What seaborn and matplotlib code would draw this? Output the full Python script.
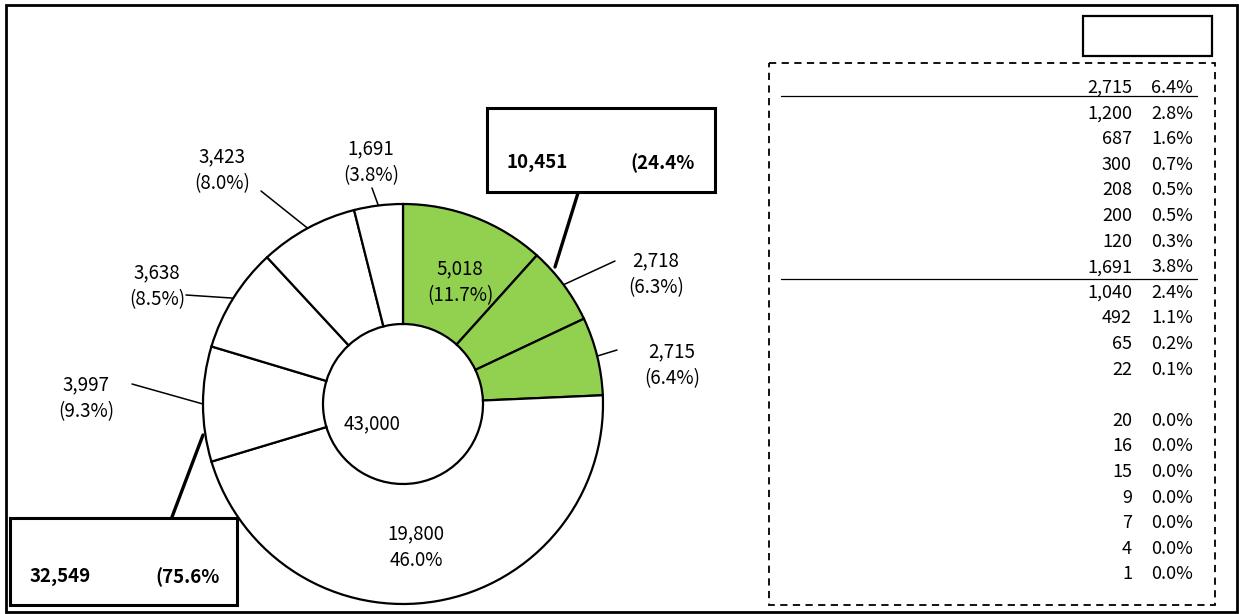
import numpy as np
import seaborn as sns
import matplotlib
matplotlib.use("Agg")
import matplotlib.pyplot as plt
from matplotlib.patches import Rectangle

# === Data ===
slice_values = [5018, 2718, 2715, 19800, 3997, 3638, 3423, 1691]
slice_pcts = ["(11.7%)", "(6.3%)", "(6.4%)", "46.0%", "(9.3%)", "(8.5%)", "(8.0%)", "(3.8%)"]
slice_colors = ["#92D050"] * 3 + ["white"] * 5
total_value = 43000
group_values = [10451, 32549]
group_pcts = ["(24.4%", "(75.6%"]

table_values = [2715, 1200, 687, 300, 208, 200, 120,
                1691, 1040, 492, 65, 22, None,
                20, 16, 15, 9, 7, 4, 1]
table_pcts = ["6.4%", "2.8%", "1.6%", "0.7%", "0.5%", "0.5%", "0.3%",
              "3.8%", "2.4%", "1.1%", "0.2%", "0.1%", None,
              "0.0%", "0.0%", "0.0%", "0.0%", "0.0%", "0.0%", "0.0%"]

# === Style ===
sns.set_theme(style="white")
plt.rcParams['font.family'] = ['Noto Sans CJK JP', 'DejaVu Sans']
plt.rcParams['text.color'] = 'black'

W, H = 1239, 614
fig = plt.figure(figsize=(W / 100, H / 100), dpi=100)
fig.patch.set_facecolor("white")

# overlay axes in pixel coordinates (frame, boxes, table)
ov = fig.add_axes([0, 0, 1, 1])
ov.set_xlim(0, W)
ov.set_ylim(H, 0)
ov.axis("off")

# pie axes: centre (403, 404) px, radius 200 px
cx, cy, R = 403, 404, 200
pax = fig.add_axes([(cx - R) / W, (H - cy - R) / H, 2 * R / W, 2 * R / H])
wedges, _ = pax.pie(slice_values, colors=slice_colors, startangle=90, counterclock=False,
                    radius=1, wedgeprops=dict(width=0.6, edgecolor="black", linewidth=1.6))
pax.set_xlim(-1, 1)
pax.set_ylim(-1, 1)
pax.axis("off")


def px(x, y):
    # pixel position -> pie data units
    return (x - cx) / R, (cy - y) / R


fs = 13.5
# label positions (px) and leader end points (px) for each slice
label_pos = [(460, 282), (656, 274), (672, 365), (416, 547),
             (86, 398), (157, 286), (222, 170), (371, 162)]
leader_end = [None, (615, 261), (617, 350), None,
              (132, 384), (186, 295), (261, 191), (372, 188)]
leader_r = [1.0, 1.0, 1.0, 1.0, 1.0, 1.0, 1.0, 1.0]

for i, w in enumerate(wedges):
    mid = np.deg2rad((w.theta1 + w.theta2) / 2)
    lx, ly = px(*label_pos[i])
    pax.text(lx, ly, f"{slice_values[i]:,}\n{slice_pcts[i]}", ha="center", va="center",
             fontsize=fs, linespacing=1.35, clip_on=False)
    if leader_end[i] is not None:
        ex, ey = px(*leader_end[i])
        pax.plot([np.cos(mid) * leader_r[i], ex], [np.sin(mid) * leader_r[i], ey],
                 color="black", lw=1.1, clip_on=False)

tx, ty = px(372, 424)
pax.text(tx, ty, f"{total_value:,}", ha="center", va="center", fontsize=fs, clip_on=False)

# === Callout boxes ===
ov.add_patch(Rectangle((487, 108), 228, 84, fill=False, edgecolor="black", lw=2.2))
ov.text(506, 163, f"{group_values[0]:,}", fontsize=fs, fontweight="bold", va="center")
ov.text(630, 163, group_pcts[0], fontsize=fs, fontweight="bold", va="center")
ov.plot([578, 555], [193, 267], color="black", lw=2.4)

ov.add_patch(Rectangle((10, 518), 227, 87, fill=False, edgecolor="black", lw=2.2))
ov.text(30, 577, f"{group_values[1]:,}", fontsize=fs, fontweight="bold", va="center")
ov.text(155, 577, group_pcts[1], fontsize=fs, fontweight="bold", va="center")
ov.plot([172, 203], [517, 435], color="black", lw=2.4)

# === Right table ===
ov.add_patch(Rectangle((1083, 16), 129, 40, fill=False, edgecolor="black", lw=1.6))
ov.add_patch(Rectangle((769, 63), 446, 542, fill=False, edgecolor="black", lw=1.3,
                       linestyle=(0, (4, 3))))
for i, (v, p) in enumerate(zip(table_values, table_pcts)):
    if v is None:
        continue
    y = 88 + i * 25.6
    ov.text(1132, y, f"{v:,}", ha="right", va="center", fontsize=fs - 0.5)
    ov.text(1193, y, p, ha="right", va="center", fontsize=fs - 0.5)
ov.plot([781, 1197], [96, 96], color="black", lw=0.9)
ov.plot([781, 1197], [279, 279], color="black", lw=0.9)

# outer frame
ov.add_patch(Rectangle((6, 5), 1231, 607, fill=False, edgecolor="black", lw=2.0))

fig.savefig("out.png", dpi=100, facecolor="white")
